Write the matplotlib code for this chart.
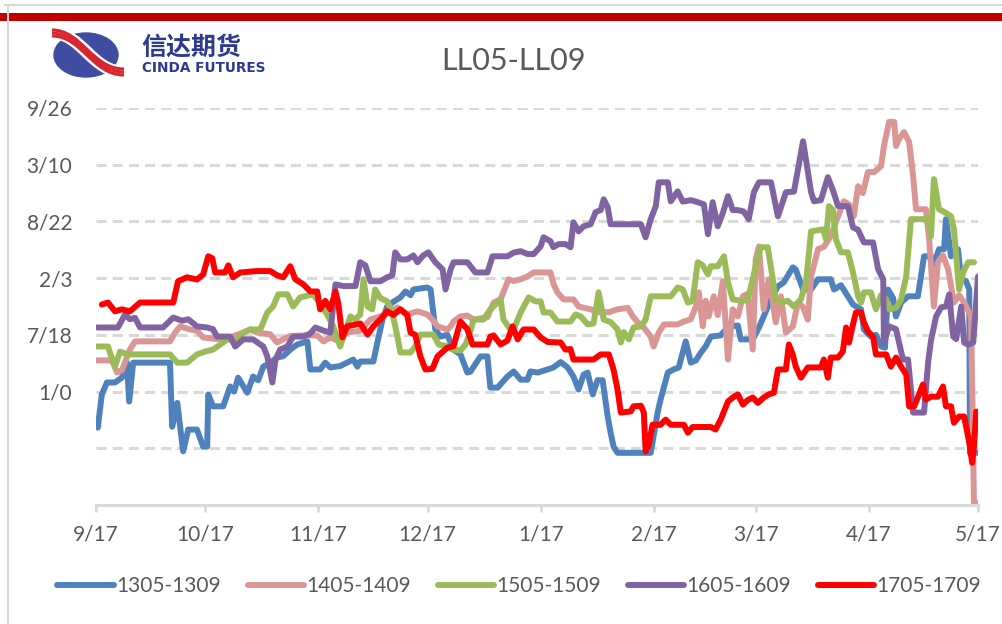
import matplotlib
matplotlib.use("Agg")
import matplotlib.pyplot as plt
from matplotlib.patches import Ellipse, Rectangle, PathPatch
from matplotlib.path import Path
from matplotlib.lines import Line2D
import pandas as pd

plt.rcParams['font.family'] = ['Lato', 'DejaVu Sans']

# x values are days after 9/17, y values are the spread (axis shown in Excel date format)
start_date = "2012-09-17"
end_date = "2013-05-17"

series_names = ["1305-1309", "1405-1409", "1505-1509", "1605-1609", "1705-1709"]
series_colors = ["#4f81bd", "#d99694", "#9bbb59", "#8064a2", "#ff0000"]

days_1305 = [0.5, 1.6, 3.0, 5.2, 7.1, 8.5, 9.1, 10.2, 20.3, 20.9, 22.3, 23.9, 25.3, 27.7, 29.4,
             30.5, 30.8, 32.1, 34.9, 36.8, 37.9, 39.0, 41.5, 43.1, 44.5, 45.9, 47.8, 49.7, 51.4,
             53.3, 55.2, 58.0, 58.8, 61.5, 62.9, 64.3, 67.0, 70.6, 71.7, 72.5, 76.1, 77.2, 78.6,
             79.9, 81.3, 83.5, 84.9, 86.3, 87.1, 90.9, 91.8, 93.1, 94.5, 96.4, 98.1, 100.0, 101.9,
             102.7, 105.5, 107.4, 108.2, 110.2, 112.9, 114.6, 116.5, 118.4, 119.2, 121.2, 123.9,
             125.5, 127.5, 129.4, 131.0, 132.4, 133.8, 134.9, 136.3, 137.6, 139.0, 140.4, 141.2,
             142.0, 143.1, 152.2, 154.1, 154.9, 156.9, 158.5, 159.9, 161.8, 163.2, 164.6, 166.0,
             167.3, 168.7, 171.4, 172.8, 174.2, 176.1, 176.9, 178.8, 180.2, 181.9, 183.2, 185.2,
             187.1, 188.7, 191.2, 192.0, 194.0, 196.2, 198.1, 201.6, 202.5, 204.4, 206.3, 207.7,
             209.9, 210.7, 212.6, 214.0, 215.4, 216.5, 217.3, 218.7, 219.5, 220.9, 222.8, 225.5,
             227.2, 229.1, 229.9, 231.3, 232.7, 233.2, 234.6, 236.5, 237.4, 238.7, 239.6, 239.8,
             242.0]
vals_1305 = [-127, -10, 32, 32, 49, 102, -35, 102, 102, -124, -40, -211, -134, -134, -194,
             -194, -10, -52, -52, 18, 0, 49, -4, 53, 40, 88, 102, 120, 125,
             148, 166, 177, 78, 78, 102, 85, 90, 113, 88, 106, 106, 173, 254,
             300, 314, 332, 353, 340, 360, 367, 360, 219, 194, 200, 148, 131, 67,
             70, 124, 124, 14, 14, 53, 71, 42, 42, 71, 67, 78,
             85, 104, 85, 53, 7, 60, 67, -10, 40, 40, -88, -145,
             -194, -216, -216, -74, -28, 67, 78, 85, 177, 102, 110, 138,
             160, 194, 198, 219, 230, 233, 184, 184, 184, 226, 265, 325,
             371, 385, 438, 430, 360, 360, 396, 396, 360, 375, 336, 307,
             290, 219, 194, 200, 159, 155, 360, 330, 265, 314, 336, 336,
             477, 477, 450, 502, 502, 608, 477, 502, 396, 390, 360, -216,
             -216]

days_1405 = [0.3, 4.4, 5.8, 7.1, 9.3, 10.7, 20.3, 21.7, 23.1, 25.8, 27.7, 29.4, 33.2, 36.8,
             40.4, 42.3, 44.2, 47.8, 49.7, 51.4, 53.3, 56.9, 60.7, 62.4, 64.3, 66.2, 68.9, 72.5,
             75.3, 78.0, 80.8, 82.7, 85.4, 88.2, 90.9, 92.3, 93.7, 96.4, 97.3, 98.1, 100.0, 101.9,
             103.6, 105.5, 107.4, 109.1, 111.0, 113.2, 114.6, 116.5, 118.4, 120.1, 124.7, 125.5,
             126.6, 128.3, 131.0, 132.4, 135.7, 137.6, 140.7, 143.1, 145.9, 147.3, 148.6, 150.3,
             152.2, 153.0, 154.4, 155.8, 159.6, 161.3, 163.2, 164.6, 165.4, 166.5, 167.3, 168.1,
             169.5, 170.6, 172.0, 173.4, 174.7, 176.1, 177.5, 178.8, 180.2, 181.0, 181.9, 183.2,
             184.6, 185.2, 186.5, 187.9, 189.3, 191.2, 192.6, 193.9, 195.3, 196.2, 198.1, 199.7,
             201.6, 203.6, 205.2, 206.6, 207.9, 209.1, 210.4, 211.8, 213.5, 215.4, 216.2, 217.6,
             219.0, 219.5, 220.3, 221.7, 223.1, 224.2, 225.0, 227.7, 228.6, 229.9, 231.0, 232.4,
             233.8, 235.4, 236.8, 238.2, 240.1, 240.9, 241.5]
vals_1405 = [110, 110, 67, 75, 148, 177, 177, 208, 230, 219, 215, 191, 185, 191,
             208, 219, 208, 202, 173, 185, 196, 198, 198, 177, 191, 180, 208, 215,
             254, 265, 280, 297, 272, 283, 272, 254, 230, 219, 230, 247, 265, 268,
             254, 258, 262, 314, 325, 396, 390, 396, 406, 420, 420, 380,
             350, 325, 325, 300, 290, 280, 280, 290, 295, 265, 244, 226,
             194, 159, 208, 237, 237, 247, 255, 300, 350, 230, 320, 265,
             336, 270, 389, 113, 290, 265, 336, 345, 148, 466, 512, 290,
             396, 360, 244, 336, 208, 230, 314, 300, 254, 406, 502, 510,
             548, 618, 671, 660, 618, 724, 700, 774, 774, 795, 866, 951,
             951, 866, 890, 915, 880, 760, 643, 643, 537, 300, 456, 480,
             431, 314, 340, 314, 265, -392, -392]

days_1505 = [0.3, 3.3, 3.8, 5.2, 6.6, 8.5, 20.3, 22.3, 25.0, 27.7, 29.9, 32.1, 34.1, 36.0,
             38.7, 40.4, 42.3, 45.1, 47.0, 48.6, 50.0, 52.5, 54.1, 56.0, 59.6, 61.5, 63.5, 65.1,
             67.0, 68.9, 69.8, 71.2, 72.5, 73.4, 74.5, 75.8, 76.6, 78.0, 79.9, 81.3, 82.7, 83.5,
             86.3, 87.6, 89.0, 92.6, 94.0, 96.4, 97.8, 100.0, 101.4, 102.7, 103.6, 106.3, 108.2,
             110.2, 111.0, 111.8, 113.7, 114.6, 116.5, 118.7, 120.6, 122.0, 122.8, 124.7, 126.6,
             130.2, 131.6, 133.0, 134.9, 136.5, 137.9, 139.3, 141.2, 143.1, 144.0, 144.8, 146.2,
             147.5, 149.5, 150.8, 152.2, 157.7, 159.6, 161.0, 162.4, 163.7, 165.1, 166.5, 167.9,
             168.7, 170.6, 172.3, 173.4, 174.7, 177.5, 178.8, 180.2, 181.6, 182.4, 184.3, 185.7,
             186.5, 187.9, 189.8, 191.5, 193.4, 194.8, 196.2, 199.5, 200.3, 201.1, 202.2, 203.0,
             204.4, 206.3, 207.7, 209.1, 209.9, 210.7, 212.6, 214.0, 215.4, 216.8, 217.6, 219.5,
             220.9, 222.3, 223.6, 228.3, 229.1, 229.9, 231.3, 233.2, 234.6, 235.4, 236.8, 237.9,
             239.3, 240.9]
vals_1505 = [159, 159, 138, 88, 141, 131, 131, 102, 102, 131, 141, 148, 166, 184,
             180, 208, 219, 219, 279, 300, 343, 343, 300, 332, 343, 310, 270, 230,
             159, 230, 265, 254, 272, 396, 300, 290, 360, 330, 318, 279, 194, 138,
             138, 159, 201, 201, 166, 160, 148, 145, 166, 212, 254, 254, 290,
             314, 325, 254, 219, 219, 279, 332, 318, 318, 279, 279, 247,
             247, 272, 265, 237, 240, 350, 254, 245, 219, 173, 210, 184,
             226, 230, 254, 336, 336, 367, 360, 314, 320, 456, 445, 413,
             442, 442, 477, 385, 325, 320, 325, 396, 477, 509, 509, 396,
             325, 314, 320, 300, 325, 385, 565, 572, 537, 654, 640, 537,
             491, 491, 420, 336, 314, 350, 350, 290, 340, 325, 290, 295,
             325, 406, 608, 608, 548, 749, 643, 630, 618, 572, 360, 420,
             456, 456]

days_1605 = [0.3, 6.0, 8.0, 9.3, 10.7, 12.1, 18.4, 21.2, 23.6, 25.3, 27.7, 30.5, 32.1, 33.2,
             36.8, 38.2, 40.4, 43.1, 45.9, 47.0, 48.4, 49.2, 50.5, 52.5, 54.1, 56.9, 58.8, 60.2,
             62.4, 64.3, 65.7, 67.9, 71.2, 72.5, 73.9, 75.3, 78.0, 79.9, 81.3, 82.1, 83.5, 85.4,
             87.1, 88.2, 89.8, 91.2, 93.1, 95.1, 95.9, 97.3, 98.1, 101.9, 104.1, 107.4, 108.8,
             112.9, 114.6, 116.5, 118.4, 120.1, 122.0, 122.8, 124.7, 125.5, 126.9, 128.8, 130.2,
             131.0, 132.4, 133.8, 135.7, 137.1, 138.5, 139.3, 140.4, 141.2, 149.5, 150.8, 152.2,
             153.6, 154.4, 156.9, 157.7, 159.6, 161.0, 163.2, 165.1, 166.8, 167.9, 169.2, 170.6,
             172.0, 173.4, 174.7, 176.1, 177.7, 179.1, 180.5, 181.9, 185.2, 187.1, 189.3, 191.5,
             194.0, 196.2, 197.0, 198.9, 200.8, 202.2, 203.6, 206.3, 207.7, 209.1, 210.7, 213.2,
             214.6, 216.0, 216.2, 217.6, 219.5, 221.4, 222.8, 224.2, 227.2, 228.3, 229.1, 230.5,
             231.9, 233.2, 234.1, 235.2, 236.0, 237.4, 238.2, 239.3, 240.7, 242.0]
vals_1605 = [226, 226, 272, 255, 260, 226, 226, 261, 250, 255, 230, 226, 220, 194,
             194, 159, 184, 184, 159, 124, 32, 110, 148, 159, 194, 194, 205, 226,
             215, 208, 378, 372, 372, 456, 445, 389, 389, 403, 410, 491, 466, 466,
             480, 456, 480, 491, 456, 431, 360, 431, 456, 456, 420, 420, 477,
             477, 490, 495, 485, 485, 512, 544, 530, 509, 520, 520, 509,
             597, 565, 583, 590, 633, 640, 678, 650, 590, 590, 544, 608,
             654, 738, 738, 671, 706, 670, 675, 668, 660, 555, 668, 583,
             630, 689, 640, 640, 635, 608, 703, 738, 738, 618, 703, 705,
             883, 703, 671, 675, 756, 710, 654, 654, 579, 570, 526, 526,
             431, 396, 173, 230, 220, 113, 113, -74, -74, 102, 180, 265,
             297, 300, 343, 194, 185, 300, 173, 165, 173, 406]

days_1705 = [1.6, 3.3, 5.2, 7.1, 9.3, 12.1, 21.2, 22.5, 25.0, 27.7, 29.4, 30.8, 31.9, 32.7,
             35.4, 36.3, 37.6, 39.6, 44.2, 47.8, 49.7, 51.4, 53.3, 54.7, 56.9, 58.8, 60.7, 61.5,
             62.9, 64.3, 65.7, 66.5, 67.6, 68.9, 72.5, 74.5, 76.1, 78.0, 79.9, 81.6, 83.5, 85.4,
             86.3, 87.6, 89.0, 90.4, 92.3, 93.7, 96.4, 98.1, 100.0, 101.9, 103.3, 107.4, 108.2,
             109.1, 111.0, 112.9, 114.3, 115.7, 117.3, 120.1, 122.0, 123.9, 127.5, 128.8, 130.2,
             131.0, 136.5, 138.5, 140.7, 142.0, 143.1, 144.0, 146.7, 147.5, 149.5, 150.3, 150.8,
             151.6, 152.7, 154.9, 156.3, 157.7, 161.3, 162.4, 163.7, 168.7, 170.0, 171.4, 173.4,
             174.7, 176.1, 177.5, 178.8, 180.2, 181.6, 183.2, 184.6, 186.0, 187.1, 189.3, 190.1,
             191.2, 192.0, 193.4, 195.3, 198.9, 199.7, 200.8, 201.6, 203.6, 204.9, 205.8, 206.6,
             207.7, 208.5, 209.9, 210.7, 211.8, 213.2, 214.0, 216.8, 218.1, 219.5, 220.9, 222.3,
             223.1, 224.5, 225.8, 226.9, 227.7, 229.1, 231.0, 232.4, 233.2, 234.6, 235.4, 236.8,
             238.2, 239.6, 240.4, 240.9, 241.5, 242.3]
vals_1705 = [307, 314, 283, 290, 283, 314, 314, 389, 403, 395, 413, 477, 470, 420,
             420, 445, 403, 420, 425, 425, 410, 403, 442, 396, 378, 353, 353, 290,
             320, 290, 353, 310, 191, 230, 240, 201, 230, 254, 283, 270, 290, 270,
             208, 200, 124, 78, 80, 124, 155, 160, 247, 220, 166, 166, 194,
             198, 166, 180, 230, 184, 219, 219, 191, 175, 173, 148, 150,
             113, 113, 131, 131, 78, 7, -74, -70, -52, -50, -74, -211,
             -190, -117, -117, -99, -117, -117, -145, -125, -125, -134, -99, -35,
             -21, -10, -46, -30, -21, -40, -21, -10, -4, 78, 78, 166,
             130, 88, 49, 85, 85, 113, 49, 120, 120, 141, 226, 173,
             237, 279, 279, 244, 212, 194, 131, 131, 88, 120, 88, 60,
             -52, -52, -10, 25, -28, -18, -18, 18, -52, -52, -110, -88,
             -88, -180, -251, -194, -71, -71]

all_days = [days_1305, days_1405, days_1505, days_1605, days_1705]
all_vals = [vals_1305, vals_1405, vals_1505, vals_1605, vals_1705]

y_ticks = [-400, -200, 0, 200, 400, 600, 800, 1000]
y_tick_labels = ["", "", "1/0", "7/18", "2/3", "8/22", "3/10", "9/26"]

text_gray = "#595959"
grid_gray = "#d9d9d9"

fig = plt.figure(figsize=(10.02, 6.24), dpi=100)
ax = fig.add_axes([96 / 1002, 1 - 505 / 624, 882 / 1002, 397 / 624])

base = pd.Timestamp(start_date)
for name, color, d, v in zip(series_names, series_colors, all_days, all_vals):
    x = base + pd.to_timedelta(d, unit="D")
    ax.plot(x, v, color=color, lw=4.3, label=name, solid_joinstyle="round",
            solid_capstyle="round")

ax.set_xlim(base, pd.Timestamp(end_date))
ax.set_ylim(-400, 1000)

month_ticks = [base + pd.DateOffset(months=i) for i in range(9)]
ax.set_xticks(month_ticks)
ax.set_xticklabels([f"{t.month}/{t.day}" for t in month_ticks])
ax.set_yticks(y_ticks)
ax.set_yticklabels(y_tick_labels)

ax.yaxis.grid(True, linestyle=(0, (3.3, 2)), color=grid_gray, lw=2.2)
ax.set_axisbelow(True)
for side in ["top", "right", "left"]:
    ax.spines[side].set_visible(False)
ax.spines["bottom"].set_color(grid_gray)
ax.spines["bottom"].set_linewidth(2.2)
ax.tick_params(axis="x", length=5, width=2, color=grid_gray, labelsize=15,
               labelcolor=text_gray, pad=9)
ax.tick_params(axis="y", length=0, labelsize=15, labelcolor=text_gray, pad=17)

fig.text(0.512, 1 - 61 / 624, "LL05-LL09", ha="center", va="center",
         fontsize=22, color=text_gray)

leg = fig.legend(loc="center", bbox_to_anchor=(0.518, 1 - 586 / 624), ncol=5,
                 frameon=False, fontsize=15, handlelength=2.7, handletextpad=0.1,
                 columnspacing=1.3, labelcolor=text_gray)

# frame and red bar at the top
fig.add_artist(Rectangle((0, 1 - 21 / 624), 1, 8.5 / 624, transform=fig.transFigure,
                         color="#c00000", lw=0))
fig.add_artist(Line2D([5 / 1002, 1], [1 - 5 / 624, 1 - 5 / 624], transform=fig.transFigure,
                      color=grid_gray, lw=1.5))
fig.add_artist(Line2D([8 / 1002, 8 / 1002], [0, 1 - 5 / 624], transform=fig.transFigure,
                      color=grid_gray, lw=1.5))

# company logo
lax = fig.add_axes([48 / 1002, 1 - 80 / 624, 80 / 1002, 52 / 624])
lax.set_xlim(48, 128)
lax.set_ylim(80, 28)
lax.axis("off")
lax.add_patch(Ellipse((86, 55), 64, 44, color="#3f4c9f"))
for off, col, w in [(0, "white", 9), (-3, "#d7262e", 2.2), (0, "#d7262e", 2.2), (3, "#d7262e", 2.2)]:
    p = Path([(52, 33 + off), (82, 33 + off), (92, 72 + off), (124, 72 + off)],
             [Path.MOVETO, Path.CURVE4, Path.CURVE4, Path.CURVE4])
    lax.add_patch(PathPatch(p, fill=False, edgecolor=col, lw=w, capstyle="butt"))

fig.text(141 / 1002, 1 - 48 / 624, "信达期货", ha="left", va="center", fontsize=18,
         fontweight="bold", color="#2e3a8f", family=["Noto Sans CJK SC", "DejaVu Sans"])
fig.text(142 / 1002, 1 - 68 / 624, "CINDA FUTURES", ha="left", va="center", fontsize=9.8,
         fontweight="bold", color="#2e3a8f", family=["DejaVu Sans"])

fig.savefig("out.png", dpi=100)
